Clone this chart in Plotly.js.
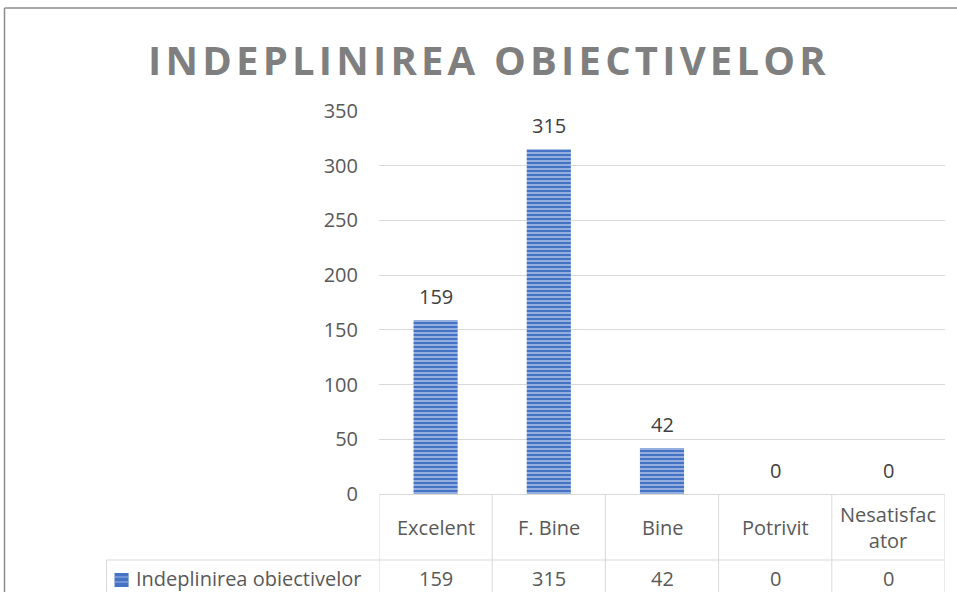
<!DOCTYPE html>
<html>
<head>
<meta charset="utf-8">
<script src="https://cdn.plot.ly/plotly-3.0.1.min.js"></script>
<style>
  html, body { margin: 0; padding: 0; background: #fff; }
  #chart { width: 957px; height: 592px; }
  .gtitle { letter-spacing: 4.2px; }
</style>
</head>
<body>
<div id="chart"></div>
<script>
// ---- data ----
const chartTitle = "INDEPLINIREA OBIECTIVELOR";
const seriesName = "Indeplinirea obiectivelor";
const categories = ["Excelent", "F. Bine", "Bine", "Potrivit", "Nesatisfacator"];
const headerLabels = ["Excelent", "F. Bine", "Bine", "Potrivit", "Nesatisfac<br>ator"];
const values = [159, 315, 42, 0, 0];
const yTicks = [0, 50, 100, 150, 200, 250, 300, 350];

// ---- styling ----
const FONT = "Open Sans, Noto Sans, sans-serif";
const AXIS_GREY = "#595959";
const LABEL_GREY = "#404040";
const LINE_GREY = "#d9d9d9";

const trace = {
  type: "bar",
  name: seriesName,
  x: categories,
  y: values,
  width: 0.39,
  marker: {
    color: "#4472c4",
    line: { width: 0 },
    pattern: { shape: "-", bgcolor: "#4472c4", fgcolor: "#c9d6f0", size: 4, solidity: 0.3, fillmode: "replace" }
  },
  hoverinfo: "x+y",
  showlegend: false
};

// paper-coordinate helpers (plot area: 379..945 x, 111..494 y)
const PL = 379.3, PR = 945, PT = 111, PB = 494;
const px2x = p => (p - PL) / (PR - PL);
const px2y = p => (PB - p) / (PB - PT);

const shapes = [];
const annotations = [];

// data labels above bars
categories.forEach((c, i) => {
  annotations.push({
    x: c, y: values[i], xref: "x", yref: "y",
    text: String(values[i]), showarrow: false,
    yanchor: "middle", yshift: 24,
    font: { family: FONT, size: 20, color: LABEL_GREY }
  });
});

// data table: vertical column borders (category boundaries)
for (let k = 0; k <= categories.length; k++) {
  shapes.push({
    type: "line", xref: "x", yref: "paper",
    x0: k - 0.5, x1: k - 0.5, y0: 0, y1: px2y(600),
    line: { color: LINE_GREY, width: 1 }
  });
}
// horizontal border between header row and value row
shapes.push({
  type: "line", xref: "paper", yref: "paper",
  x0: px2x(107), x1: 1, y0: px2y(560), y1: px2y(560),
  line: { color: LINE_GREY, width: 1 }
});
// legend cell left border
shapes.push({
  type: "line", xref: "paper", yref: "paper",
  x0: px2x(107), x1: px2x(107), y0: px2y(560), y1: px2y(600),
  line: { color: LINE_GREY, width: 1 }
});

// header labels and values
categories.forEach((c, i) => {
  annotations.push({
    x: c, xref: "x", y: px2y(527.5), yref: "paper",
    text: headerLabels[i], showarrow: false, yanchor: "middle",
    font: { family: FONT, size: 20, color: AXIS_GREY }
  });
  annotations.push({
    x: c, xref: "x", y: px2y(578), yref: "paper",
    text: String(values[i]), showarrow: false, yanchor: "middle",
    font: { family: FONT, size: 20, color: AXIS_GREY }
  });
});

// legend key + series name in the table
shapes.push({
  type: "rect", xref: "paper", yref: "paper",
  x0: px2x(115), x1: px2x(129), y0: px2y(573), y1: px2y(587),
  fillcolor: "#4472c4", line: { width: 0 }
});
[577, 582].forEach(py => {
  shapes.push({
    type: "line", xref: "paper", yref: "paper",
    x0: px2x(115), x1: px2x(129), y0: px2y(py), y1: px2y(py),
    line: { color: "#9db4e3", width: 1 }
  });
});
annotations.push({
  x: px2x(134), xref: "paper", y: px2y(578), yref: "paper",
  text: seriesName, showarrow: false, xanchor: "left", yanchor: "middle",
  font: { family: FONT, size: 20, color: AXIS_GREY }
});

// chart outer frame (left and top edges visible)
shapes.push({
  type: "line", xref: "paper", yref: "paper",
  x0: px2x(5), x1: px2x(5), y0: px2y(8), y1: px2y(600),
  line: { color: "#8c8c8c", width: 1.5 }
});
shapes.push({
  type: "line", xref: "paper", yref: "paper",
  x0: px2x(5), x1: px2x(960), y0: px2y(8), y1: px2y(8),
  line: { color: "#8c8c8c", width: 1.5 }
});

const layout = {
  width: 957, height: 592,
  margin: { l: 379, r: 12, t: 111, b: 98, pad: 0 },
  paper_bgcolor: "#ffffff",
  plot_bgcolor: "#ffffff",
  title: {
    text: chartTitle,
    xref: "container", yref: "container",
    x: 489 / 957, xanchor: "center",
    y: 1 - 61 / 592, yanchor: "middle",
    font: { family: FONT, size: 40, weight: 700, color: "#7f7f7f" }
  },
  xaxis: {
    type: "category",
    showticklabels: false,
    showgrid: false,
    showline: true, linecolor: LINE_GREY, linewidth: 1,
    ticks: "",
    range: [-0.5, categories.length - 0.5],
    fixedrange: true
  },
  yaxis: {
    range: [0, 350],
    tickvals: yTicks,
    ticktext: yTicks.map(String),
    showgrid: true, gridcolor: LINE_GREY, gridwidth: 1,
    zeroline: false, showline: false,
    ticks: "",
    ticklabelstandoff: 20,
    tickfont: { family: FONT, size: 20, color: AXIS_GREY },
    fixedrange: true
  },
  shapes: shapes,
  annotations: annotations,
  showlegend: false
};

Plotly.newPlot("chart", [trace], layout, { displayModeBar: false, staticPlot: true });
</script>
</body>
</html>
